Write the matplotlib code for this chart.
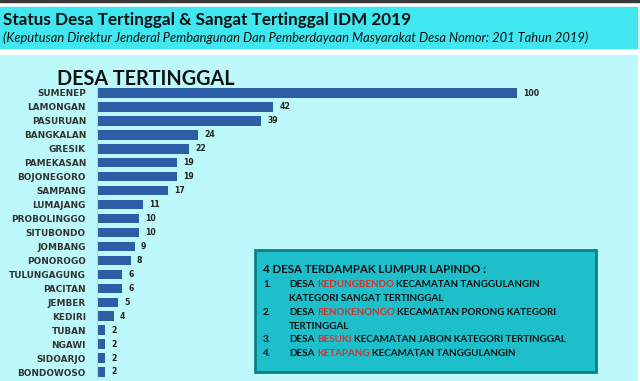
import matplotlib
matplotlib.use("Agg")
import matplotlib.pyplot as plt
from matplotlib.patches import Rectangle

# data
kabupaten = ["SUMENEP", "LAMONGAN", "PASURUAN", "BANGKALAN", "GRESIK",
             "PAMEKASAN", "BOJONEGORO", "SAMPANG", "LUMAJANG", "PROBOLINGGO",
             "SITUBONDO", "JOMBANG", "PONOROGO", "TULUNGAGUNG", "PACITAN",
             "JEMBER", "KEDIRI", "TUBAN", "NGAWI", "SIDOARJO", "BONDOWOSO"]
jumlah = [100, 42, 39, 24, 22, 19, 19, 17, 11, 10, 10, 9, 8, 6, 6, 5, 4, 2, 2, 2, 2]

title = "Status Desa Tertinggal & Sangat Tertinggal IDM 2019"
subtitle = ("(Keputusan Direktur Jenderal Pembangunan Dan Pemberdayaan "
            "Masyarakat Desa Nomor: 201 Tahun 2019)")
box_head = "4 DESA TERDAMPAK LUMPUR LAPINDO :"
# each item: lines made of (text, is_red) pieces
box_items = [
    ("1.", [[("DESA", False), ("KEDUNGBENDO", True), ("KECAMATAN TANGGULANGIN", False)],
            [("KATEGORI SANGAT TERTINGGAL", False)]]),
    ("2.", [[("DESA", False), ("RENOKENONGO", True), ("KECAMATAN PORONG KATEGORI", False)],
            [("TERTINGGAL", False)]]),
    ("3.", [[("DESA", False), ("BESUKI", True), ("KECAMATAN JABON KATEGORI TERTINGGAL", False)]]),
    ("4.", [[("DESA", False), ("KETAPANG", True), ("KECAMATAN TANGGULANGIN", False)]]),
]

W, H = 640, 381
BAR = "#2B5EA6"
HEAD = "#40E6F0"
PANEL = "#BDF8FB"
BOXFILL = "#1DBFCB"
BOXEDGE = "#0D7E88"
RED = "#D9302A"


def fx(x):
    return x / W


def fy(y_top):
    return 1 - y_top / H


fig = plt.figure(figsize=(6.4, 3.81), dpi=100)
fig.patch.set_facecolor("white")
renderer = fig.canvas.get_renderer()

# background bands
fig.add_artist(Rectangle((0, fy(1.5)), 1, 1.5 / H, transform=fig.transFigure,
                         color="#3a3a3a", zorder=0))
fig.add_artist(Rectangle((0, fy(48)), fx(637), 41 / H, transform=fig.transFigure,
                         color=HEAD, zorder=0))
fig.add_artist(Rectangle((0, 0), fx(637), fy(55), transform=fig.transFigure,
                         color=PANEL, zorder=0))

fig.text(fx(3), fy(25), title, fontfamily="Lato", fontweight="bold",
         fontsize=12.3, color="#111111", va="baseline")
fig.text(fx(3), fy(42), subtitle, fontfamily="Lato", fontstyle="italic",
         fontsize=9.3, color="#111111", va="baseline")
fig.text(fx(57), fy(85), "DESA TERTINGGAL", fontfamily="Lato", fontweight="bold",
         fontsize=14.2, color="#111111", va="baseline")

# bar chart
row = 13.95
top = 93 - row / 2
bot = top + row * len(kabupaten)
ax = fig.add_axes([fx(97), fy(bot), fx(420), (bot - top) / H])
ax.set_facecolor("none")
ypos = list(range(len(kabupaten)))
ax.barh(ypos, jumlah, height=0.68, color=BAR)
ax.set_xlim(0, 100)
ax.set_ylim(len(kabupaten) - 0.5, -0.5)
ax.set_yticks(ypos)
ax.set_yticklabels(kabupaten, fontfamily="DejaVu Sans", fontweight="bold",
                   fontsize=6.4, color="#333333")
ax.tick_params(axis="y", length=0, pad=8)
ax.set_xticks([])
for s in ["top", "right", "bottom"]:
    ax.spines[s].set_visible(False)
ax.spines["left"].set_color("#a8dfe6")
ax.spines["left"].set_linewidth(0.8)
for y, v in zip(ypos, jumlah):
    ax.annotate(str(v), (v, y), xytext=(4.5, 0), textcoords="offset points",
                va="center", ha="left", fontfamily="DejaVu Sans",
                fontweight="bold", fontsize=5.6, color="#222222")

# info box
fig.add_artist(Rectangle((fx(255), fy(372)), fx(341), 122 / H,
                         transform=fig.transFigure, facecolor=BOXFILL,
                         edgecolor=BOXEDGE, linewidth=2, zorder=1))
fs = 7.1
font = dict(fontfamily="Lato", fontweight="bold", va="baseline", zorder=3)
fig.text(fx(263), fy(273), box_head, fontsize=8.3, color="#111111", **font)


def text_width(s):
    t = fig.text(0, 0, s, fontsize=fs, **font)
    w = t.get_window_extent(renderer).width
    t.remove()
    return w


space = text_width("A A") - text_width("AA")
line_y = [287, 301, 315, 329, 342, 356]
k = 0
for num, lines in box_items:
    fig.text(fx(263), fy(line_y[k]), num, fontsize=fs, color="#111111", **font)
    for pieces in lines:
        x = 289
        for txt, red in pieces:
            t = fig.text(fx(x), fy(line_y[k]), txt, fontsize=fs,
                         color=RED if red else "#111111", **font)
            x += t.get_window_extent(renderer).width + space
        k += 1

fig.savefig("out.png", dpi=100)
